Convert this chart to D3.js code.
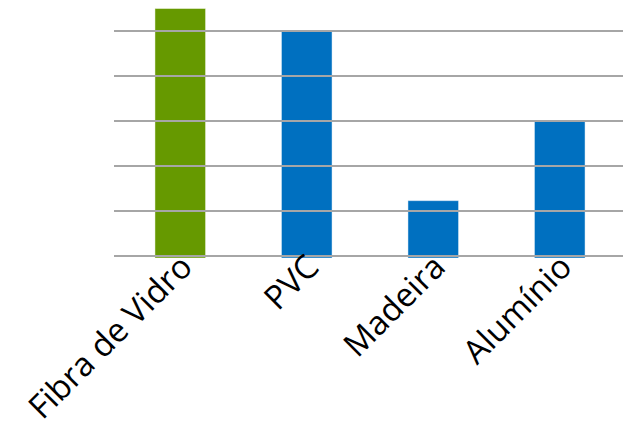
<!DOCTYPE html>
<html>
<head>
<meta charset="utf-8">
<script src="https://cdn.jsdelivr.net/npm/d3@7"></script>
<style>
  body { margin: 0; background: #fff; }
</style>
</head>
<body>
<div id="wrapper"></div>
<script>
const categories = ["Fibra de Vidro", "PVC", "Madeira", "Alumínio"]
const values = [5.5, 5, 1.23, 3]
const barColors = ["#669900", "#0070c0", "#0070c0", "#0070c0"]
const gridTicks = [0, 1, 2, 3, 4, 5]

function drawBarChart() {
  let dimensions = {
    width: 623,
    height: 421,
    margin: { top: 31, right: 0, bottom: 165, left: 117 },
  }
  dimensions.boundedWidth = dimensions.width - dimensions.margin.left - dimensions.margin.right
  dimensions.boundedHeight = dimensions.height - dimensions.margin.top - dimensions.margin.bottom

  const xScale = d3.scaleBand()
    .domain(categories)
    .range([0, dimensions.boundedWidth])
    .paddingInner(0.6)
    .paddingOuter(0.3)

  const yScale = d3.scaleLinear()
    .domain([0, 5])
    .range([dimensions.boundedHeight, 0])

  const svg = d3.select("#wrapper")
    .append("svg")
    .attr("width", dimensions.width)
    .attr("height", dimensions.height)

  const bounds = svg.append("g")
    .attr("transform", `translate(${dimensions.margin.left},${dimensions.margin.top})`)

  // bars
  bounds.selectAll("rect.bar")
    .data(categories)
    .join("rect")
    .attr("class", "bar")
    .attr("x", d => xScale(d))
    .attr("width", xScale.bandwidth())
    .attr("y", (d, i) => yScale(values[i]))
    .attr("height", (d, i) => yScale(0) - yScale(values[i]) + 2)
    .attr("fill", (d, i) => barColors[i])
    .attr("stroke", "rgba(255,255,255,0.45)")
    .attr("stroke-width", 1)

  // gridlines drawn over the bars
  bounds.selectAll("line.grid")
    .data(gridTicks)
    .join("line")
    .attr("class", "grid")
    .attr("x1", -3)
    .attr("x2", dimensions.boundedWidth)
    .attr("y1", d => yScale(d))
    .attr("y2", d => yScale(d))
    .attr("stroke", "#a6a6a6")
    .attr("stroke-width", 2)

  // category labels
  bounds.selectAll("text.label")
    .data(categories)
    .join("text")
    .attr("class", "label")
    .attr("transform", d => `translate(${xScale(d) + xScale.bandwidth() / 2 + 14},${dimensions.boundedHeight + 13}) rotate(-45)`)
    .attr("text-anchor", "end")
    .attr("font-family", "'Open Sans', sans-serif")
    .attr("font-size", 33)
    .attr("fill", "#000")
    .text(d => d)
}

drawBarChart()
</script>
</body>
</html>
